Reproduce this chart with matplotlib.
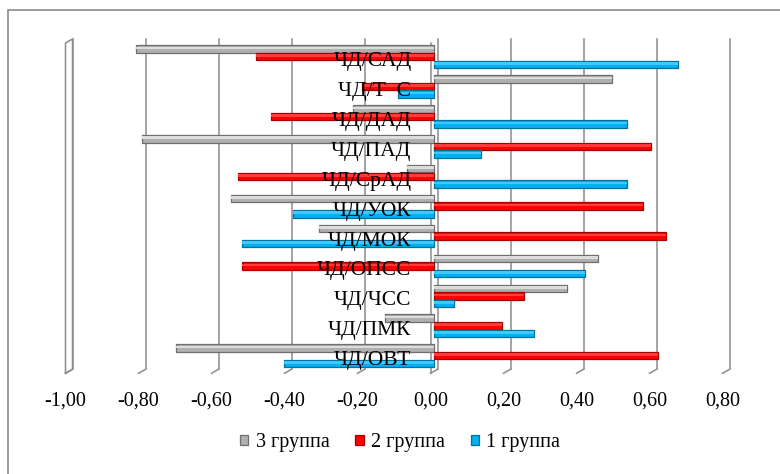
import matplotlib
matplotlib.use("Agg")
import matplotlib.pyplot as plt
from matplotlib.transforms import ScaledTranslation
from matplotlib.patches import Rectangle
import numpy as np

plt.rcParams['font.family'] = ['Liberation Serif', 'DejaVu Serif']

# categories bottom -> top
categories = ["ЧД/ОВТ", "ЧД/ПМК", "ЧД/ЧСС", "ЧД/ОПСС", "ЧД/МОК", "ЧД/УОК",
              "ЧД/СрАД", "ЧД/ПАД", "ЧД/ДАД", "ЧД/Т  С", "ЧД/САД"]
group3 = [-0.707, -0.134, 0.364, 0.448, -0.315, -0.556, -0.075, -0.801, -0.223, 0.487, -0.816]
group2 = [0.615, 0.187, 0.246, -0.527, 0.635, 0.572, -0.536, 0.595, -0.447, -0.198, -0.488]
group1 = [-0.411, 0.273, 0.054, 0.414, -0.527, -0.387, 0.528, 0.129, 0.530, -0.099, 0.669]
series_names = ["3 группа", "2 группа", "1 группа"]
xticks = [-1.0, -0.8, -0.6, -0.4, -0.2, 0.0, 0.2, 0.4, 0.6, 0.8]
xtick_labels = ["-1,00", "-0,80", "-0,60", "-0,40", "-0,20", "0,00", "0,20", "0,40", "0,60", "0,80"]

W, H = 780, 474
fig = plt.figure(figsize=(W / 100, H / 100), dpi=100)
fig.patch.set_facecolor("white")

# outer chart border (left & top visible)
fig.add_artist(Rectangle((8 / W, -0.2), 1.2, 1.2 - 10 / H, transform=fig.transFigure,
                         fill=False, edgecolor="#8a8a8a", linewidth=1.2))

left, right = 65.5 / W, 722.5 / W
bottom, top = (H - 373.3) / H, (H - 43) / H
ax = fig.add_axes([left, bottom, right - left, top - bottom])
ax.set_xlim(-1.0, 0.8)
y0, y1 = -0.589, 10.458
ax.set_ylim(y0, y1)
for s in ax.spines.values():
    s.set_visible(False)
ax.set_yticks([])
ax.set_xticks(xticks)
ax.set_xticklabels(xtick_labels, fontsize=14.5)
ax.tick_params(axis="x", length=0, pad=13)

# 3D-like back wall gridlines
dxd = 7 * 1.8 / 657.0
dyd = 4 / 29.9
gc = "#8c8c8c"
for v in xticks:
    ax.plot([v + dxd, v + dxd], [y0 + dyd, y1 + dyd], color=gc, lw=1.1, clip_on=False, zorder=1)
    ax.plot([v, v + dxd], [y0, y0 + dyd], color=gc, lw=1.1, clip_on=False, zorder=1)
# left wall
v = xticks[0]
ax.plot([v, v, v + dxd, v + dxd, v], [y0, y1, y1 + dyd, y0 + dyd, y0], color=gc, lw=1.1,
        clip_on=False, zorder=1)
# category axis line at 0
ax.plot([0, 0], [y0, y1], color=gc, lw=1.1, clip_on=False, zorder=1)

# bars
ypos = np.arange(len(categories))
bh = 0.25
off = 0.255
bar_tr = ax.transData + ScaledTranslation(3.5 / 100, 0, fig.dpi_scale_trans)
styles = [
    (group3, off, "#b0b0b0", "#6e6e6e", "#dcdcdc"),
    (group2, 0.0, "#ff0000", "#a80000", "#ff3c3c"),
    (group1, -off, "#00b0f0", "#00709c", "#40c8ff"),
]
handles = []
for (vals, o, c, ec, hc), name in zip(styles, series_names):
    b = ax.barh(ypos + o, vals, height=bh, color=c, edgecolor=ec, linewidth=0.9,
                transform=bar_tr, zorder=3, label=name)
    ax.barh(ypos + o + 0.035, vals, height=bh * 0.35, color=hc, linewidth=0,
            transform=bar_tr, zorder=4)
    handles.append(b)

# category labels
lab_tr = ax.transData + ScaledTranslation(-19 / 100, -5 / 100, fig.dpi_scale_trans)
for yi, name in zip(ypos, categories):
    ax.text(0, yi, name, ha="right", va="center", fontsize=15.5, transform=lab_tr, zorder=6)

leg = fig.legend([handles[0], handles[1], handles[2]], series_names, loc="center",
                 bbox_to_anchor=(400 / W, 1 - 443 / H), ncol=3, frameon=False,
                 fontsize=14.5, handlelength=0.4, handleheight=0.4, handletextpad=0.35,
                 columnspacing=1.3)

fig.savefig("out.png", dpi=100, facecolor="white")
